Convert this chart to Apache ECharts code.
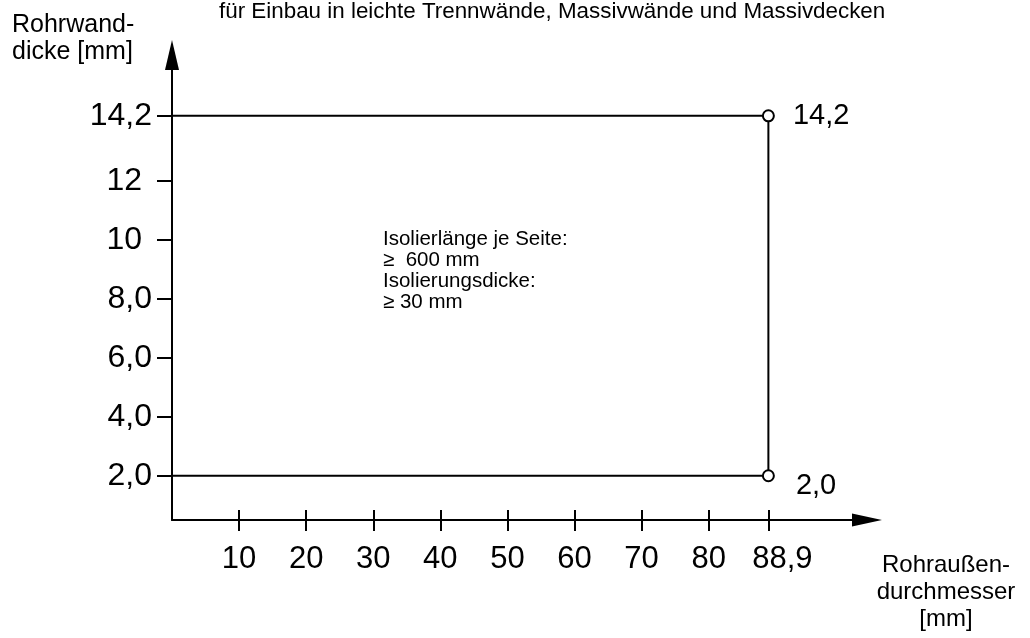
<!DOCTYPE html>
<html>
<head>
<meta charset="utf-8">
<script src="https://cdn.jsdelivr.net/npm/echarts@6/dist/echarts.min.js"></script>
<style>
html,body{margin:0;padding:0;background:#fff;}
#c{width:1030px;height:638px;}
</style>
</head>
<body>
<div id="c"></div>
<script>
// ---- data ----
const xTicks = [10, 20, 30, 40, 50, 60, 70, 80, 88.9];
const xTickLabels = ['10', '20', '30', '40', '50', '60', '70', '80', '88,9'];
const yTicks = [2.0, 4.0, 6.0, 8.0, 10, 12, 14.2];
const yTickLabels = ['2,0', '4,0', '6,0', '8,0', '10', '12', '14,2'];
const outerDiameter = [88.9];          // Rohraußendurchmesser [mm]
const wallThickness = [14.2, 2.0];     // Rohrwanddicke max / min [mm]
const pointLabels = ['14,2', '2,0'];
const titleText = 'für Einbau in leichte Trennwände, Massivwände und Massivdecken';
const noteLines = ['Isolierlänge je Seite:', '≥  600 mm', 'Isolierungsdicke:', '≥ 30 mm'];
const yName = ['Rohrwand-', 'dicke [mm]'];
const xName = ['Rohraußen-', 'durchmesser', '[mm]'];

// ---- build ----
const FONT = 'Liberation Sans, Arial, sans-serif';
const d = outerDiameter[0];
const linePath = [[0, wallThickness[0]], [d, wallThickness[0]], [d, wallThickness[1]], [0, wallThickness[1]]];
const points = wallThickness.map((w, i) => ({
  value: [d, w],
  label: i === 0
    ? { formatter: pointLabels[i], offset: [0, 0], color: '#000' }
    : { formatter: pointLabels[i], offset: [3, 10], color: '#000' }
}));

const chart = echarts.init(document.getElementById('c'));
chart.setOption({
  backgroundColor: '#fff',
  animation: false,
  grid: { left: 172, right: 163, top: 55, bottom: 118, containLabel: false, outerBoundsMode: 'none' },
  xAxis: [{
    type: 'value', min: 0, max: 103.6, position: 'bottom',
    splitLine: { show: false },
    axisLine: { onZero: false, lineStyle: { color: '#000', width: 2 }, symbol: ['none', 'triangle'], symbolSize: [13, 30] },
    axisTick: { show: true, inside: false, length: 11, lineStyle: { color: '#000', width: 2 }, customValues: xTicks },
    axisLabel: {
      customValues: xTicks, margin: 24, color: '#000', fontSize: 31, fontFamily: FONT,
      formatter: v => {
        const s = xTickLabels[xTicks.indexOf(v)];
        return v === d ? '{e|' + s + '}' : s;
      },
      rich: { e: { padding: [0, 0, 0, 28], fontSize: 31, fontFamily: FONT, color: '#000' } }
    }
  }, {
    type: 'value', min: 0, max: 103.6, position: 'bottom', gridIndex: 0,
    splitLine: { show: false },
    axisLine: { show: false, onZero: false },
    axisTick: { show: true, inside: true, length: 10, lineStyle: { color: '#000', width: 2 }, customValues: xTicks },
    axisLabel: { show: false }
  }],
  yAxis: {
    type: 'value', min: 0.5, max: 16.26,
    splitLine: { show: false },
    axisLine: { onZero: false, lineStyle: { color: '#000', width: 2 }, symbol: ['none', 'triangle'], symbolSize: [14, 30] },
    axisTick: { show: true, length: 15, lineStyle: { color: '#000', width: 2 }, customValues: yTicks },
    axisLabel: {
      customValues: yTicks, margin: 20, color: '#000', fontSize: 32, fontFamily: FONT,
      formatter: v => {
        const s = yTickLabels[yTicks.indexOf(v)];
        return Number.isInteger(v) && v >= 10 ? '{i|' + s + '}' : s;
      },
      rich: { i: { padding: [0, 10, 0, 0], fontSize: 32, fontFamily: FONT, color: '#000' } }
    }
  },
  series: [{
    type: 'line', data: linePath, showSymbol: false, symbol: 'none',
    lineStyle: { color: '#000', width: 2 }, z: 3, silent: true
  }, {
    type: 'scatter', data: points, symbol: 'circle', symbolSize: 11,
    itemStyle: { color: '#fff', borderColor: '#000', borderWidth: 2, opacity: 1 },
    label: { show: true, position: 'right', distance: 18, color: '#000', fontSize: 29, fontFamily: FONT },
    z: 4, silent: true
  }],
  graphic: [
    { type: 'text', x: 219, y: 1, z: 10, style: { text: titleText, fill: '#000', font: '22.4px ' + FONT } },
    { type: 'text', x: 12, y: 12, style: { text: yName.join('\n'), fill: '#000', font: '25px ' + FONT, lineHeight: 27 } },
    { type: 'text', x: 946, y: 552, style: { text: xName.join('\n'), fill: '#000', font: '24px ' + FONT, lineHeight: 27, align: 'center' } },
    { type: 'text', x: 383, y: 229, style: { text: noteLines.join('\n'), fill: '#000', font: '20.5px ' + FONT, lineHeight: 21 } }
  ]
});
</script>
</body>
</html>
